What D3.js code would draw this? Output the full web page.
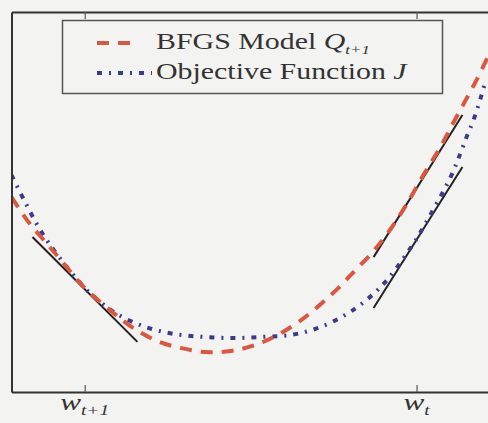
<!DOCTYPE html>
<html>
<head>
<meta charset="utf-8">
<script src="https://cdn.jsdelivr.net/npm/d3@7"></script>
<style>
  body { margin: 0; background: #f3f3f1; }
  svg { display: block; }
  text { font-family: "Liberation Serif", "Times New Roman", serif; }
</style>
</head>
<body>
<div id="chart"></div>
<script>
// values (x and y in plot units, 0..10)
const modelX = [0, 0.35, 0.66, 0.96, 1.5, 2.09, 2.5, 2.99, 3.46, 3.98, 4.49, 5.0, 5.45, 5.88, 6.29, 6.7, 7.05, 7.4, 7.77, 8.11, 8.44, 8.79, 9.06, 9.34, 9.55, 9.77];
const modelY = [5.13, 4.47, 4.0, 3.55, 2.74, 2.08, 1.68, 1.34, 1.16, 1.05, 1.08, 1.24, 1.5, 1.84, 2.26, 2.74, 3.21, 3.68, 4.29, 4.97, 5.71, 6.45, 7.1, 7.76, 8.26, 8.84];

const objX = [0, 0.29, 0.59, 0.94, 1.5, 1.82, 2.19, 2.75, 3.32, 3.93, 4.55, 5.14, 5.72, 6.27, 6.84, 7.32, 7.73, 8.3, 8.44, 9.0, 9.24, 9.34, 9.45, 9.55, 9.71];
const objY = [5.71, 4.97, 4.26, 3.61, 2.74, 2.37, 2.03, 1.71, 1.53, 1.45, 1.42, 1.45, 1.5, 1.68, 2.03, 2.47, 3.0, 4.03, 4.34, 5.66, 6.42, 6.76, 7.1, 7.47, 8.16];

// tangent segments: start / end points
const tangentX0 = [0.43, 7.42, 7.42];
const tangentY0 = [4.08, 3.55, 2.21];
const tangentX1 = [2.58, 9.24, 9.24];
const tangentY1 = [1.32, 7.29, 5.92];

const tickValues = [1.5, 8.3];
const tickNames = ["w", "w"];
const tickSubs = ["t+1", "t"];

const legendText = ["BFGS Model ", "Objective Function "];
const legendSymbol = ["Q", "J"];
const legendSub = ["t+1", ""];

const width = 488, height = 423;
const TEXT_SX = 1.3; // the picture is stretched sideways

const svg = d3.select("#chart").append("svg")
    .attr("width", width)
    .attr("height", height);

svg.append("rect")
    .attr("width", width).attr("height", height)
    .attr("fill", "#f3f3f1");

const x = d3.scaleLinear().domain([0, 10]).range([11.5, 499.5]);
const y = d3.scaleLinear().domain([0, 10]).range([392, 12]);

svg.append("clipPath").attr("id", "plot-clip")
    .append("rect")
    .attr("x", x(0)).attr("y", y(10))
    .attr("width", x(10) - x(0)).attr("height", y(0) - y(10));

const plot = svg.append("g").attr("clip-path", "url(#plot-clip)");

const line = d3.line()
    .x(d => x(d[0]))
    .y(d => y(d[1]))
    .curve(d3.curveCatmullRom.alpha(0.5));

// tangent lines
plot.selectAll(".tangent")
    .data(tangentX0.map((d, i) => [[d, tangentY0[i]], [tangentX1[i], tangentY1[i]]]))
    .enter().append("path")
    .attr("class", "tangent")
    .attr("d", line)
    .attr("fill", "none")
    .attr("stroke", "#222")
    .attr("stroke-width", 2);

const RED = "#db573f", BLUE = "#3b3b8e";
const RED_DASH = "12,9", BLUE_DASH = "5,7,2,7";

plot.append("path")
    .datum(objX.map((d, i) => [d, objY[i]]))
    .attr("d", line)
    .attr("fill", "none")
    .attr("stroke", BLUE)
    .attr("stroke-width", 4)
    .attr("stroke-dasharray", BLUE_DASH);

plot.append("path")
    .datum(modelX.map((d, i) => [d, modelY[i]]))
    .attr("d", line)
    .attr("fill", "none")
    .attr("stroke", RED)
    .attr("stroke-width", 4)
    .attr("stroke-dasharray", RED_DASH);

// frame: bottom, top, left
const xAxisBottom = d3.axisBottom(x).tickValues(tickValues).tickSize(-7).tickSizeOuter(0).tickFormat("");
const xAxisTop = d3.axisTop(x).tickValues(tickValues).tickSize(-7).tickSizeOuter(0).tickFormat("");
const yAxisLeft = d3.axisLeft(y).tickValues([]).tickSizeOuter(0);

[svg.append("g").attr("transform", `translate(0,${y(0)})`).call(xAxisBottom),
 svg.append("g").attr("transform", `translate(0,${y(10)})`).call(xAxisTop),
 svg.append("g").attr("transform", `translate(${x(0)},0)`).call(yAxisLeft)]
    .forEach(g => {
        g.select(".domain").attr("stroke", "#333").attr("stroke-width", 2);
        g.selectAll(".tick line").attr("stroke", "#555").attr("stroke-width", 1.2);
    });

// tick labels  w_{t+1}, w_t
tickValues.forEach((v, i) => {
    const t = svg.append("text")
        .attr("transform", `translate(${x(v)},410) scale(${TEXT_SX},1)`)
        .attr("text-anchor", "middle")
        .attr("fill", "#333");
    t.append("tspan").attr("font-style", "italic").attr("font-size", 24).text(tickNames[i]);
    t.append("tspan").attr("font-style", "italic").attr("font-size", 15).attr("dy", 5).text(tickSubs[i]);
});

// legend
const legend = svg.append("g");
legend.append("rect")
    .attr("x", 62.5).attr("y", 20.5)
    .attr("width", 380).attr("height", 73)
    .attr("fill", "#f3f3f1")
    .attr("stroke", "#555")
    .attr("stroke-width", 1.5);

const legendColors = [RED, BLUE];
const legendDash = [RED_DASH, BLUE_DASH];
const legendLen = [40, 55];
legendText.forEach((name, i) => {
    const ly = 43 + i * 30;
    legend.append("line")
        .attr("x1", 97).attr("x2", 97 + legendLen[i])
        .attr("y1", ly).attr("y2", ly)
        .attr("stroke", legendColors[i])
        .attr("stroke-width", 4)
        .attr("stroke-dasharray", legendDash[i]);
    const t = legend.append("text")
        .attr("transform", `translate(156,${ly + 6}) scale(${TEXT_SX},1)`)
        .attr("font-size", 23)
        .attr("fill", "#333");
    t.append("tspan").text(name);
    t.append("tspan").attr("font-style", "italic").text(legendSymbol[i]);
    if (legendSub[i]) {
        t.append("tspan").attr("font-style", "italic").attr("font-size", 13).attr("dy", 5).text(legendSub[i]);
    }
});
</script>
</body>
</html>
